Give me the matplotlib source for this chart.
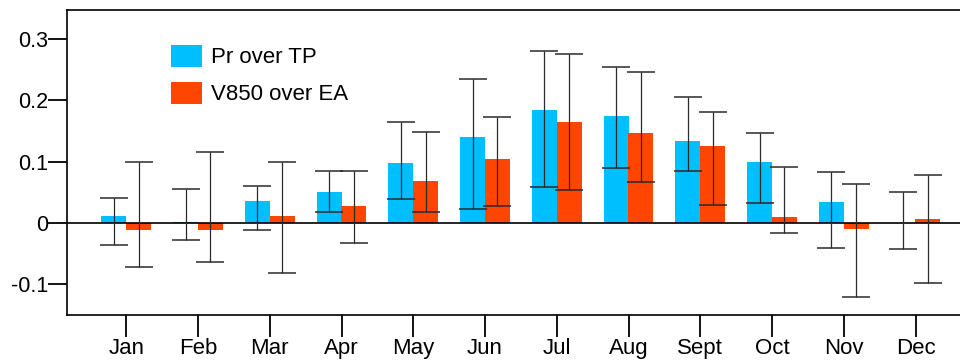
import matplotlib
matplotlib.use("Agg")
import matplotlib.pyplot as plt
import numpy as np

plt.rcParams['font.family'] = ['Liberation Sans', 'DejaVu Sans']

months = ['Jan', 'Feb', 'Mar', 'Apr', 'May', 'Jun', 'Jul', 'Aug', 'Sept', 'Oct', 'Nov', 'Dec']

# Pr over TP: bar value, lower / upper end of the error range
pr_tp = [0.012, 0.002, 0.036, 0.051, 0.098, 0.140, 0.184, 0.175, 0.134, 0.100, 0.034, 0.000]
pr_lo = [-0.036, -0.028, -0.011, 0.018, 0.039, 0.022, 0.058, 0.089, 0.084, 0.032, -0.040, -0.042]
pr_hi = [0.041, 0.055, 0.061, 0.084, 0.165, 0.234, 0.281, 0.255, 0.206, 0.146, 0.083, 0.051]

# V850 over EA
v850 = [-0.012, -0.012, 0.011, 0.028, 0.069, 0.104, 0.165, 0.147, 0.126, 0.010, -0.010, 0.007]
v_lo = [-0.072, -0.063, -0.082, -0.033, 0.018, 0.027, 0.054, 0.066, 0.029, -0.016, -0.120, -0.098]
v_hi = [0.100, 0.115, 0.100, 0.085, 0.149, 0.172, 0.275, 0.246, 0.181, 0.091, 0.063, 0.079]

blue = '#00bfff'
red = '#ff4500'

x = np.arange(1, len(months) + 1)
w = 0.35
off = 0.172

fig = plt.figure(figsize=(9.6, 3.61), dpi=100)
ax = fig.add_axes([66.5 / 960, 46 / 361, 910 / 960, 305.5 / 361])

ax.bar(x - off, pr_tp, w, color=blue, label='Pr over TP', zorder=2)
ax.bar(x + off, v850, w, color=red, label='V850 over EA', zorder=2)

ax.axhline(0, color='black', lw=1.2, zorder=3)

pr_err = [np.array(pr_tp) - np.array(pr_lo), np.array(pr_hi) - np.array(pr_tp)]
v_err = [np.array(v850) - np.array(v_lo), np.array(v_hi) - np.array(v850)]
ax.errorbar(x - off, pr_tp, yerr=pr_err, fmt='none', ecolor='#2a2a2a',
            elinewidth=0.9, capsize=10, capthick=1.1, zorder=4)
ax.errorbar(x + off, v850, yerr=v_err, fmt='none', ecolor='#2a2a2a',
            elinewidth=0.9, capsize=10, capthick=1.1, zorder=4)

ax.set_xlim(0.167, 12.85)
ax.set_ylim(-0.15, 0.348)
ax.set_xticks(x)
ax.set_xticklabels(months)
ax.set_yticks([-0.1, 0, 0.1, 0.2, 0.3])
ax.set_yticklabels(['-0.1', '0', '0.1', '0.2', '0.3'])

ax.tick_params(axis='x', direction='out', length=15.5, width=1.3, pad=1, labelsize=16)
ax.tick_params(axis='y', direction='out', length=14, width=1.3, pad=-1, labelsize=15.5)
for s in ax.spines.values():
    s.set_linewidth(1.2)

ax.legend(loc='upper left', bbox_to_anchor=(153 / 960, 1 - 27 / 361),
          bbox_transform=fig.transFigure, frameon=False, fontsize=16,
          handlelength=1.4, handleheight=1.15, handletextpad=0.4,
          labelspacing=0.6, borderpad=0.3)

fig.savefig('out.png', dpi=100)
